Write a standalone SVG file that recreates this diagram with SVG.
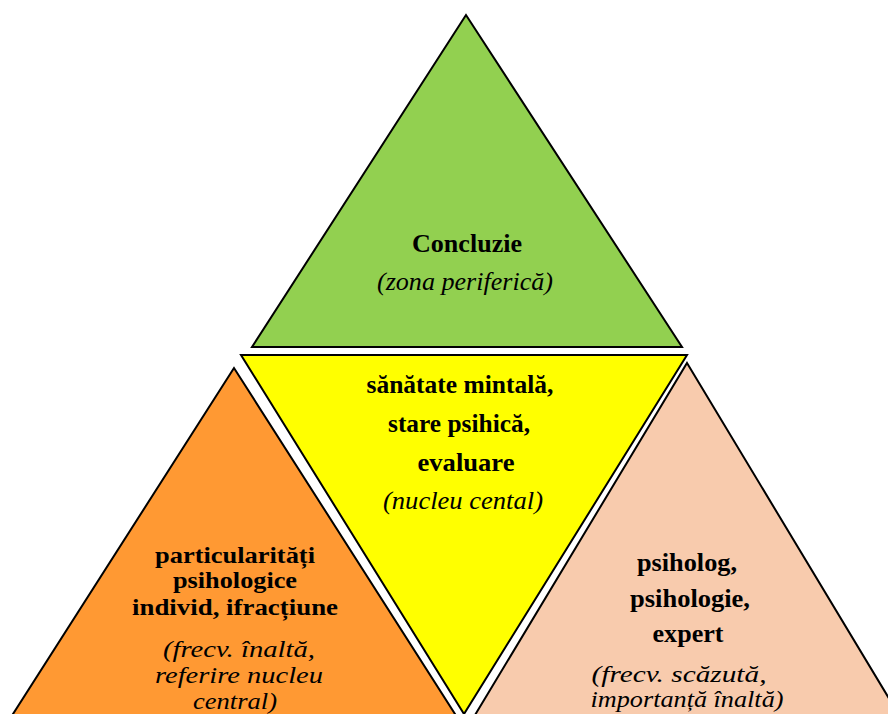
<svg xmlns="http://www.w3.org/2000/svg" width="888" height="714" viewBox="0 0 888 714">
<style>
.tri{stroke:#000;stroke-width:2;stroke-linejoin:miter}
text{font-family:'Liberation Serif','Times New Roman',serif;font-size:26px;fill:#000;text-anchor:middle}
.b{font-weight:bold}
.i{font-style:italic}
.s{font-size:23px}
</style>
<rect width="888" height="714" fill="#fff"/>
<g id="left">
<polygon class="tri" points="234,368 -10,750 478,750" fill="#FF9933"/>
<text class="b s" x="235" y="563" textLength="160" lengthAdjust="spacingAndGlyphs">particularități</text>
<text class="b s" x="235" y="588" textLength="124" lengthAdjust="spacingAndGlyphs">psihologice</text>
<text class="b s" x="235" y="615" textLength="206" lengthAdjust="spacingAndGlyphs">individ, ifracțiune</text>
<text class="i s" x="239" y="657" textLength="152" lengthAdjust="spacingAndGlyphs">(frecv. înaltă,</text>
<text class="i s" x="239" y="683" textLength="168" lengthAdjust="spacingAndGlyphs">referire nucleu</text>
<text class="i s" x="235" y="709" textLength="84" lengthAdjust="spacingAndGlyphs">central)</text>
</g>
<g id="right">
<polygon class="tri" points="687,363 905,725 469,725" fill="#F8CBAD"/>
<text class="b" x="687" y="571" textLength="100" lengthAdjust="spacingAndGlyphs">psiholog,</text>
<text class="b" x="690" y="607" textLength="120" lengthAdjust="spacingAndGlyphs">psihologie,</text>
<text class="b" x="688" y="642" textLength="71" lengthAdjust="spacingAndGlyphs">expert</text>
<text class="i s" x="679" y="682" textLength="175" lengthAdjust="spacingAndGlyphs">(frecv. scăzută,</text>
<text class="i s" x="687" y="707" textLength="193" lengthAdjust="spacingAndGlyphs">importanță înaltă)</text>
</g>
<g id="top">
<polygon class="tri" points="466,15 252,347 682,347" fill="#92D050"/>
<text class="b" x="467" y="252" textLength="110" lengthAdjust="spacingAndGlyphs">Concluzie</text>
<text class="i" x="465" y="290" textLength="176" lengthAdjust="spacingAndGlyphs">(zona periferică)</text>
</g>
<g id="center">
<polygon class="tri" points="241,355 687,355 464,714" fill="#FFFF00"/>
<text class="b" x="460" y="393" textLength="187" lengthAdjust="spacingAndGlyphs">sănătate mintală,</text>
<text class="b" x="459" y="432" textLength="142" lengthAdjust="spacingAndGlyphs">stare psihică,</text>
<text class="b" x="466" y="471" textLength="97" lengthAdjust="spacingAndGlyphs">evaluare</text>
<text class="i" x="463" y="509" textLength="160" lengthAdjust="spacingAndGlyphs">(nucleu cental)</text>
</g>
<g id="connectors"></g>
</svg>
